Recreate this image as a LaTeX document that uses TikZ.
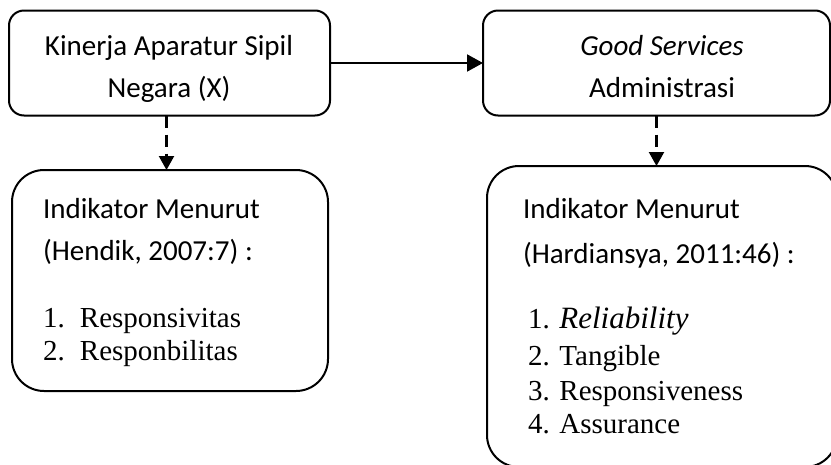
\documentclass[tikz,border=0pt]{standalone}
\usepackage{fontspec}
\setmainfont{Liberation Serif}
\newfontfamily\calib{Carlito}
\usetikzlibrary{arrows.meta,positioning}

\begin{document}
\begin{tikzpicture}[
    x=1pt,y=-1pt,
    every node/.style={inner sep=0pt,outer sep=0pt},
    box/.style={rectangle,draw,line width=2pt,rounded corners=15pt},
    indbox/.style={box,rounded corners=32pt},
    lbl/.style={font=\calib\fontsize{29}{33}\selectfont,anchor=base},
    lbll/.style={lbl,anchor=base west},
    item/.style={font=\fontsize{29}{33}\selectfont,anchor=base west},
    arr/.style={-{Triangle[length=16pt,width=17pt]},line width=2pt},
    darr/.style={line width=2.2pt,dash pattern=on 12pt off 7pt,
                 -{Triangle[length=14pt,width=15pt]}}
  ]
  \useasboundingbox (0,0) rectangle (831,464);
  \clip (0,0) rectangle (831,464);
  % Variable boxes
  \node[box,minimum width=321pt,minimum height=105pt] (kinerja) at (169.5,63) {};
  \node[box,minimum width=347pt,minimum height=105pt] (good) at (656.5,63) {};
  \node[lbl] (kinerjaA) at (169,55) {Kinerja Aparatur Sipil};
  \node[lbl] (kinerjaB) at (169,97) {Negara (X)};
  \node[lbl] (goodA) at (662,55) {\itshape Good Services};
  \node[lbl] (goodB) at (662,97) {Administrasi};
  % Indicator boxes
  \node[indbox,minimum width=316pt,minimum height=221pt] (indHendik) at (170,280.5) {};
  \node[indbox,minimum width=350pt,minimum height=301pt] (indHardi) at (662,316.5) {};
  \node[lbll] (hendikA) at (43,218) {Indikator Menurut};
  \node[lbll] (hendikB) at (43,260) {(Hendik, 2007:7) :};
  \node[item] (hendik1) at (43,327) {\makebox[37pt][l]{1.}Responsivitas};
  \node[item] (hendik2) at (43,360) {\makebox[37pt][l]{2.}Responbilitas};
  \node[lbll] (hardiA) at (523,218) {Indikator Menurut};
  \node[lbll] (hardiB) at (523,263) {(Hardiansya, 2011:46) :};
  \node[item] (hardi1) at (528,328) {1. {\fontsize{31}{35}\selectfont\itshape Reliability}};
  \node[item] (hardi2) at (528,365) {2. Tangible};
  \node[item] (hardi3) at (528,400) {3. Responsiveness};
  \node[item] (hardi4) at (528,433) {4. Assurance};
  % Connectors
  \draw[arr] (kinerja.east) -- (kinerja.east -| good.west);
  \draw[darr] ([xshift=-3pt]kinerja.south) -- ([xshift=-3pt]kinerja.south |- indHendik.north);
  \draw[darr] (good.south) -- (good.south |- indHardi.north);
\end{tikzpicture}
\end{document}
